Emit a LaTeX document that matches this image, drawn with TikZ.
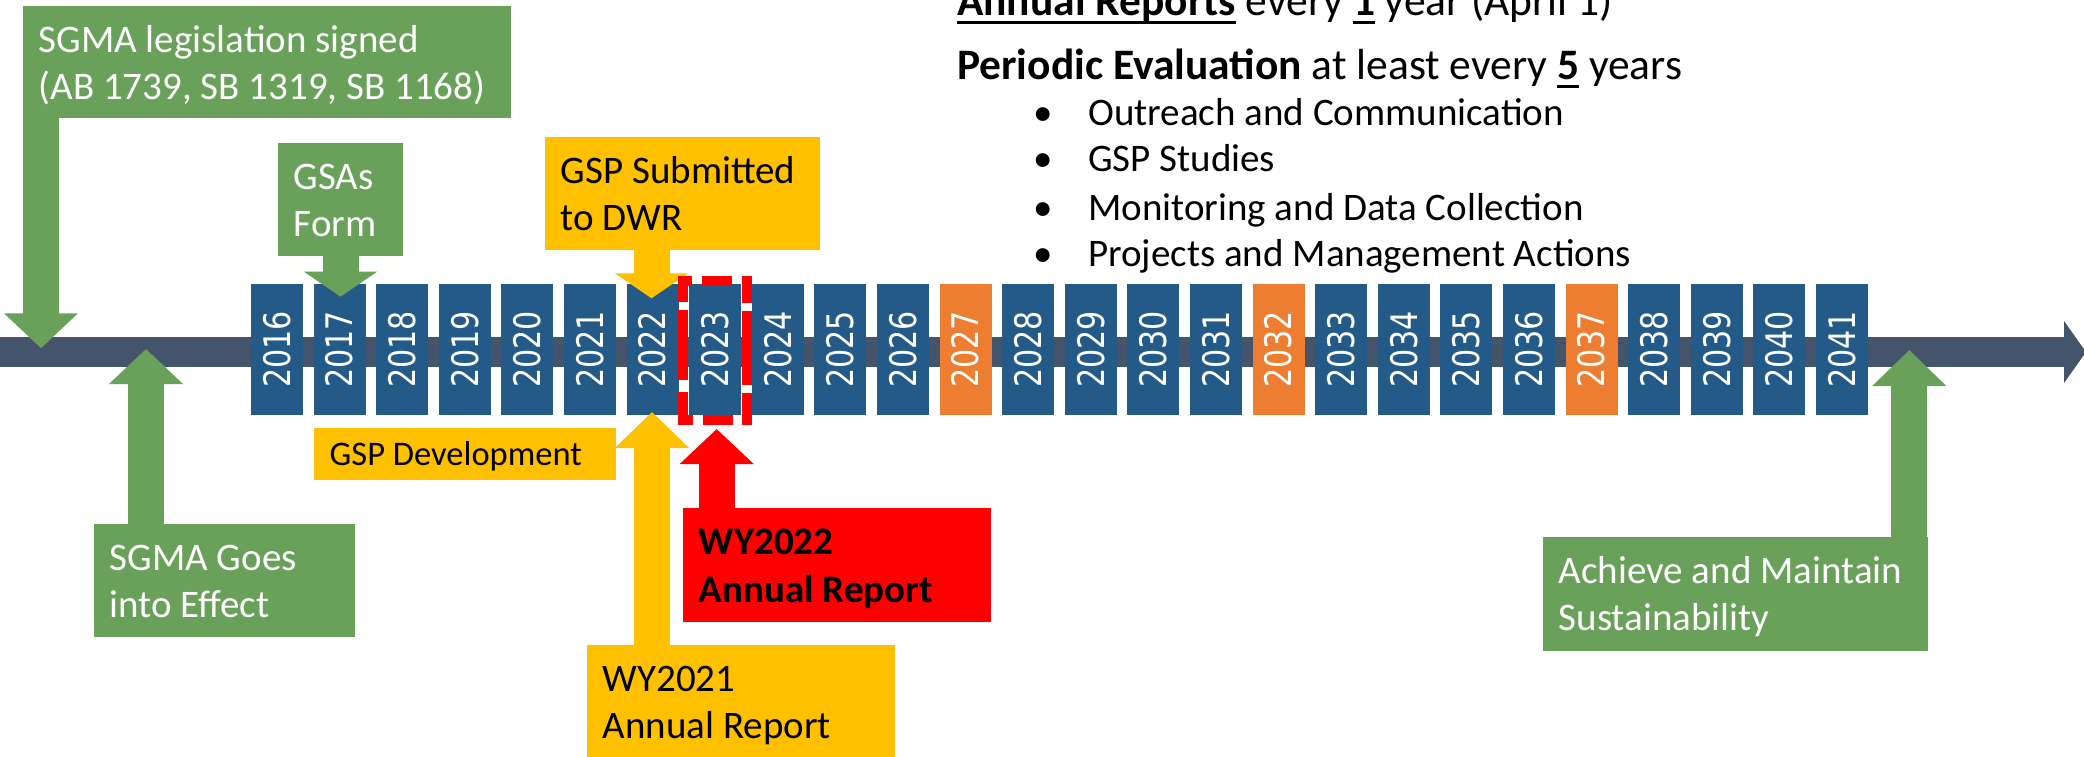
\documentclass[tikz,border=0pt]{standalone}
\usepackage{fontspec}
\usepackage{graphicx}
\setmainfont{Carlito}
\newfontfamily\yrfont{DejaVu Sans}
\usetikzlibrary{arrows.meta}
\definecolor{gr}{HTML}{6AA15A}
\definecolor{yb}{HTML}{235A88}
\definecolor{og}{HTML}{ED7D31}
\definecolor{yl}{HTML}{FFC000}
\definecolor{rd}{HTML}{FF0000}
\definecolor{tl}{HTML}{44546A}
\newcommand\ulx[1]{\leavevmode\sbox0{#1}\rlap{\rule[-7.6pt]{\wd0}{2.7pt}}\usebox0}
\newcommand\ns{\spaceskip=0pt\xspaceskip=0pt\relax}
\begin{document}
\begin{tikzpicture}[x=1pt,y=-1pt,
  lbl/.style={anchor=north west, inner xsep=15.5pt, inner ysep=0pt, align=left,
    text height=46pt, font=\fontsize{39}{47.4}\selectfont},
  yrbox/.style={minimum width=52pt, minimum height=131pt, inner sep=0pt, fill=#1,
    text=white, font={\yrfont\fontsize{36.6}{40}\selectfont}},
  callout/.style 2 args={line width=36pt, draw=#1, -{Triangle[width=72pt,length=#2]}},
  rtxt/.style={anchor=base west, inner sep=0pt},
  hlside/.style={draw=rd, line width=10pt}
]
\useasboundingbox (0,0) rectangle (2084,757);

% timeline bar
\coordinate (t0) at (0,352);
\coordinate (t1) at (2086,352);
\draw[line width=30.5pt, draw=tl, -{Triangle[width=61pt,length=22pt]}] (t0) -- (t1);

% year boxes
\foreach \i in {0,...,25}{
  \pgfmathtruncatemacro\yy{2016+\i}
  \pgfmathsetmacro\xx{277+62.6*\i}
  \ifnum\yy=2027 \def\cc{og}\else\ifnum\yy=2032 \def\cc{og}\else\ifnum\yy=2037 \def\cc{og}\else\def\cc{yb}\fi\fi\fi
  \node[yrbox=\cc] (y\yy) at (\xx,349.5) {\rotatebox{90}{\scalebox{0.824}[1]{\yy}}};
}

% label boxes
\node[lbl, fill=gr, text=white, text width=457pt, text depth=66pt] (legis) at (23,6)
  {\ns SGMA legislation signed\\(AB 1739, SB 1319, SB 1168)};
\node[lbl, fill=gr, text=white, text width=94pt, text depth=67pt] (gsas) at (278,143)
  {\ns GSAs\\Form};
\node[lbl, fill=yl, text=black, text width=244pt, text depth=66.3pt] (gspsub) at (545,137)
  {\ns GSP Submitted\\to DWR};
\node[lbl, fill=yl, text=black, text width=271pt, text height=37pt, text depth=15pt,
  font=\fontsize{34.5}{40}\selectfont] (gspdev) at (314,428) {\ns GSP Development};
\node[lbl, fill=gr, text=white, text width=230pt, text depth=67pt] (goes) at (94,524)
  {\ns SGMA Goes\\into Effect};
\node[lbl, fill=yl, text=black, text width=277pt, text depth=66.3pt] (wy21) at (587,645)
  {\ns WY2021\\Annual Report};
\node[lbl, fill=rd, text=black, text width=277pt, text depth=67.7pt,
  font=\fontsize{39}{48.4}\selectfont\bfseries] (wy22) at (683,508)
  {\ns WY2022\\Annual Report};
\node[lbl, fill=gr, text=white, text width=354pt, text depth=67.3pt] (achieve) at (1543,537)
  {\ns Achieve and Maintain\\Sustainability};

% callout arrows
\coordinate (tA) at (41,348.3);
\coordinate (tB) at (340.5,296.7);
\coordinate (tC) at (651.5,298.3);
\coordinate (tD) at (146,349);
\coordinate (tE) at (652,412);
\coordinate (tF) at (716.7,429);
\coordinate (tG) at (1909.3,350);
\draw[callout={gr}{35pt}] (tA |- legis.south) -- (tA);
\draw[callout={gr}{25pt}] (tB |- gsas.south) -- (tB);
\draw[callout={yl}{25pt}] (tC |- gspsub.south) -- (tC);
\draw[callout={gr}{35pt}] (tD |- goes.north) -- (tD);
\draw[callout={yl}{36pt}] (tE |- wy21.north) -- (tE);
\draw[callout={rd}{35pt}] (tF |- wy22.north) -- (tF);
\draw[callout={gr}{36pt}] (tG |- achieve.north) -- (tG);

% highlight of 2023 (dashed red frame)
\node[minimum width=63.4pt, minimum height=139.3pt, inner sep=0pt] (hl) at (715,350.35) {};
\draw[hlside, dash pattern=on 13.4pt off 10pt on 30pt off 10pt on 20pt]
  ([xshift=-5pt]hl.north west) -- ([xshift=5pt]hl.north east);
\draw[hlside, dash pattern=on 15pt off 10pt on 30pt off 10pt on 20pt]
  ([xshift=-5pt]hl.south west) -- ([xshift=5pt]hl.south east);
\draw[hlside, dash pattern=on 26pt off 8pt on 70pt off 12pt on 40pt]
  ([yshift=5pt]hl.north west) -- ([yshift=-5pt]hl.south west);
\draw[hlside, dash pattern=on 27.6pt off 8.3pt on 73.3pt off 8.3pt on 40pt]
  ([yshift=5pt]hl.north east) -- ([yshift=-5pt]hl.south east);

% right text
\node[rtxt, font=\fontsize{43.5}{52}\selectfont] (ar) at (957,16)
  {\ulx{\textbf{Annual Reports}} every \ulx{\textbf{1}} year (April 1)};
\node[rtxt, font=\fontsize{43.5}{52}\selectfont] (pe) at (957,80)
  {\textbf{Periodic Evaluation} at least every \ulx{\textbf{5}} years};
\node[rtxt, font=\fontsize{39}{47}\selectfont] (b1) at (1033,125)
  {\makebox[55pt][l]{•}Outreach and Communication};
\node[rtxt, font=\fontsize{39}{47}\selectfont] (b2) at (1033,171.7)
  {\makebox[55pt][l]{•}GSP Studies};
\node[rtxt, font=\fontsize{39}{47}\selectfont] (b3) at (1033,220)
  {\makebox[55pt][l]{•}Monitoring and Data Collection};
\node[rtxt, font=\fontsize{39}{47}\selectfont] (b4) at (1033,266.7)
  {\makebox[55pt][l]{•}Projects and Management Actions};
\end{tikzpicture}
\end{document}
